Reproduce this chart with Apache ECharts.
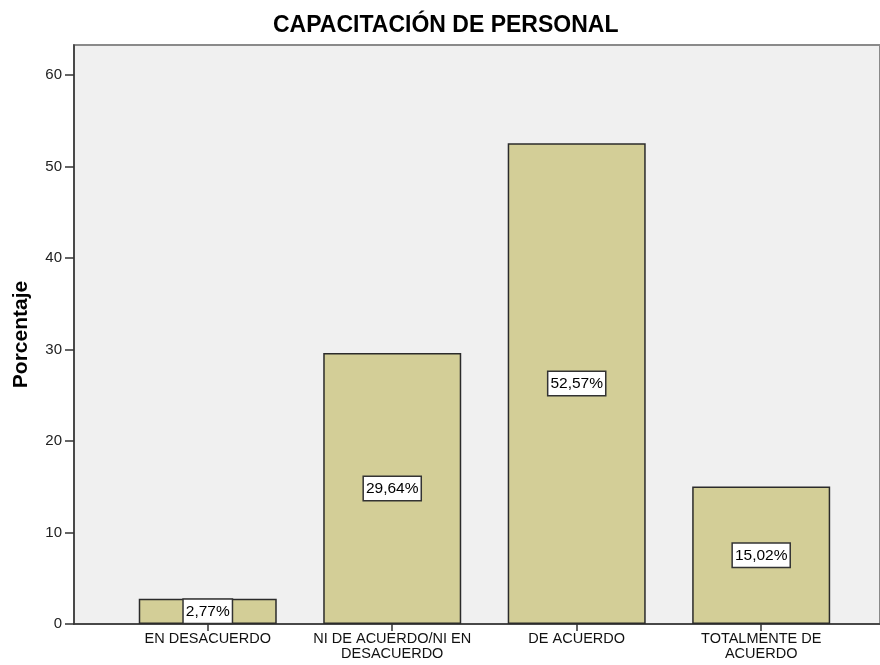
<!DOCTYPE html>
<html>
<head>
<meta charset="utf-8">
<script src="https://cdn.jsdelivr.net/npm/echarts@6/dist/echarts.min.js"></script>
<style>
html,body{margin:0;padding:0;background:#fff;}
#chart{width:880px;height:665px;}
</style>
</head>
<body>
<div id="chart"></div>
<script>
const titleText = 'CAPACITACIÓN DE PERSONAL';
const yAxisName = 'Porcentaje';
const categories = ['EN DESACUERDO', 'NI DE ACUERDO/NI EN\nDESACUERDO', 'DE ACUERDO', 'TOTALMENTE DE\nACUERDO'];
const percentages = [2.77, 29.64, 52.57, 15.02];
const yTicks = [0, 10, 20, 30, 40, 50, 60];

const positions = categories.map((c, i) => i);
const FONT = '"Liberation Sans", Arial, sans-serif';

const chart = echarts.init(document.getElementById('chart'), null, {renderer: 'canvas'});
chart.setOption({
  animation: false,
  backgroundColor: '#ffffff',
  title: {
    text: titleText,
    left: 273,
    top: 14,
    padding: 0,
    textStyle: {fontFamily: FONT, fontSize: 23, fontWeight: 'bold', color: '#000'}
  },
  grid: {
    left: 74, top: 45, bottom: 41, right: 0,
    show: true,
    backgroundColor: '#F0F0F0',
    borderColor: '#8a8a8a',
    borderWidth: 2
  },
  xAxis: {
    type: 'value',
    min: -0.725,
    max: 3.644,
    splitLine: {show: false},
    axisLine: {show: true, onZero: false, lineStyle: {color: '#333', width: 1.5}},
    axisTick: {show: true, customValues: positions, length: 7, lineStyle: {color: '#333', width: 1.5}},
    axisLabel: {
      customValues: positions,
      formatter: v => categories[Math.round(v)],
      fontFamily: FONT, fontSize: 14.5, color: '#111', lineHeight: 15, margin: 7
    }
  },
  yAxis: {
    type: 'value',
    min: 0,
    max: 63.3,
    interval: 10,
    name: yAxisName,
    nameLocation: 'middle',
    nameGap: 42,
    nameTextStyle: {fontFamily: FONT, fontSize: 21, fontWeight: 'bold', color: '#000'},
    splitLine: {show: false},
    axisLine: {show: true, onZero: false, lineStyle: {color: '#333', width: 1.5}},
    axisTick: {show: true, length: 9, lineStyle: {color: '#333', width: 1.5}},
    axisLabel: {
      showMaxLabel: false,
      formatter: v => (yTicks.indexOf(v) >= 0 ? String(v) : ''),
      fontFamily: FONT, fontSize: 15, color: '#222', margin: 12
    }
  },
  series: [{
    type: 'bar',
    data: percentages.map((v, i) => [positions[i], v]),
    barWidth: 138,
    itemStyle: {color: '#D3CE97', borderColor: '#2b2b2b', borderWidth: 1.5},
    label: {
      show: true,
      position: 'inside',
      formatter: p => p.value[1].toFixed(2).replace('.', ',') + '%',
      fontFamily: FONT, fontSize: 15.5, color: '#000',
      backgroundColor: '#ffffff',
      borderColor: '#333',
      borderWidth: 1.5,
      padding: [4, 2, 3, 2]
    }
  }]
});
</script>
</body>
</html>
